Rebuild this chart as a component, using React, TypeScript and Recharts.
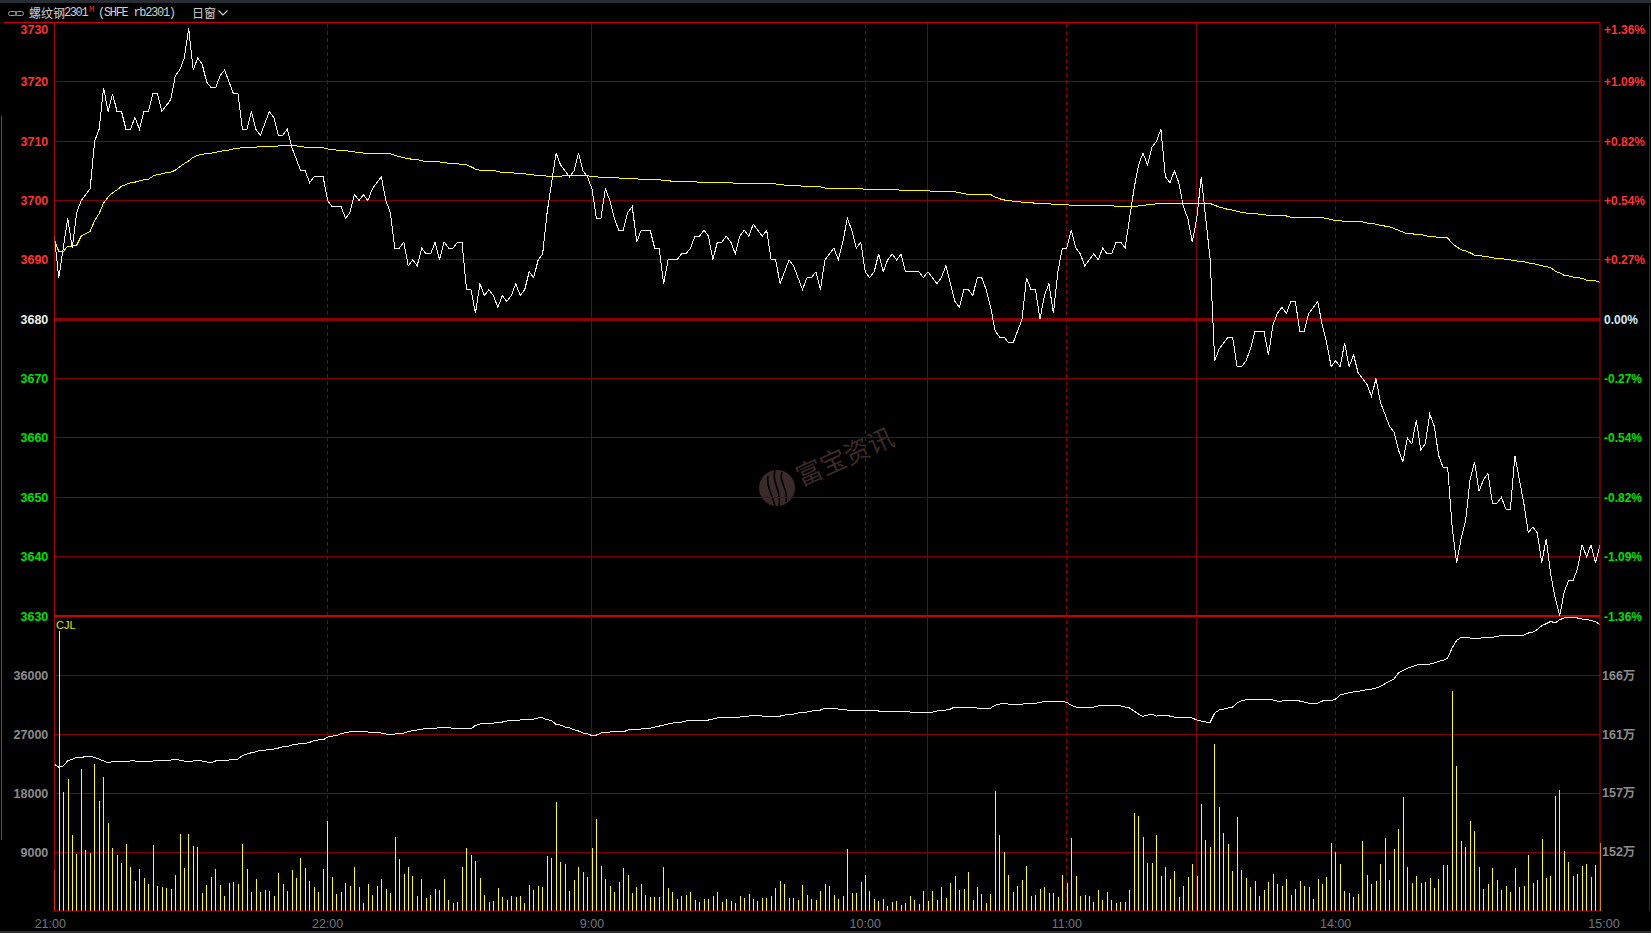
import React from "react";
import {
  ComposedChart,
  Line,
  Bar,
  XAxis,
  YAxis,
  ReferenceLine,
} from "recharts";

const priceValues = [
  3694, 3687, 3692, 3697, 3692, 3698, 3700, 3701, 3702, 3710,
  3712, 3719, 3715, 3718, 3715, 3715, 3712, 3712, 3714, 3712,
  3715, 3715, 3718, 3718, 3715, 3716, 3717, 3721, 3722, 3724,
  3729, 3722, 3724, 3723, 3720, 3719, 3719, 3721, 3722, 3720,
  3718, 3718, 3712, 3712, 3715, 3712, 3711, 3713, 3715, 3714,
  3711, 3711, 3712, 3709, 3707, 3705, 3705, 3703, 3704, 3704,
  3704, 3700, 3699, 3699, 3699, 3697, 3698, 3701, 3700, 3701,
  3700, 3702, 3703, 3704, 3700, 3698, 3692, 3692, 3693, 3689,
  3690, 3689, 3692, 3691, 3691, 3693, 3690, 3693, 3692, 3692,
  3693, 3693, 3685, 3685, 3681, 3686, 3684, 3685, 3684, 3682,
  3684, 3683, 3684, 3686, 3684, 3685, 3688, 3687, 3690, 3691,
  3698, 3703, 3708, 3706, 3705, 3704, 3705, 3708, 3705, 3704,
  3702, 3697, 3697, 3702, 3700, 3697, 3695, 3695, 3698, 3699,
  3693, 3695, 3695, 3695, 3692, 3692, 3686, 3690, 3690, 3690,
  3691, 3691, 3692, 3694, 3694, 3695, 3694, 3690, 3693, 3693,
  3694, 3693, 3691, 3694, 3695, 3694, 3696, 3695, 3694, 3695,
  3690, 3690, 3686, 3688, 3690, 3689, 3687, 3685, 3687, 3687,
  3688, 3685, 3690, 3691, 3692, 3690, 3693, 3697, 3695, 3692,
  3693, 3688, 3687, 3688, 3691, 3688, 3690, 3691, 3690, 3691,
  3688, 3688, 3688, 3688, 3687, 3688, 3687, 3686, 3687, 3689,
  3686, 3683, 3682, 3685, 3685, 3684, 3687, 3687, 3685, 3682,
  3678, 3677, 3677, 3676, 3676, 3678, 3680, 3687, 3685, 3685,
  3680, 3684, 3686, 3681, 3688, 3692, 3692, 3695, 3692, 3691,
  3689, 3690, 3691, 3690, 3692, 3691, 3691, 3693, 3693, 3692,
  3697, 3702, 3706, 3708, 3706, 3709, 3710, 3712, 3704, 3703,
  3705, 3703, 3699, 3697, 3693, 3697, 3704, 3697, 3690, 3673,
  3675, 3676, 3677, 3677, 3672, 3672, 3673, 3675, 3678, 3678,
  3678, 3674, 3679, 3681, 3682, 3681, 3683, 3683, 3678, 3678,
  3681, 3682, 3683, 3679, 3676, 3672, 3673, 3672, 3676, 3672,
  3674, 3671, 3670, 3669, 3667, 3670, 3666, 3664, 3662, 3661,
  3658, 3656, 3660, 3659, 3663, 3658, 3659, 3664, 3662, 3657,
  3655, 3655, 3645, 3639, 3643, 3646, 3653, 3656, 3651, 3653,
  3654, 3649, 3649, 3650, 3648, 3648, 3657, 3653, 3649, 3644,
  3645, 3644, 3639, 3643, 3637, 3633, 3630, 3634, 3636, 3636,
  3638, 3642, 3640, 3642, 3639, 3642,
];

const avgValues = [
  3693.5, 3691.4, 3691.4, 3692.3, 3692.3, 3692.5, 3694, 3694.4, 3694.8, 3696.6,
  3697.8, 3699.6, 3700.6, 3701.3, 3701.8, 3702.4, 3702.7, 3703, 3703.1, 3703.3,
  3703.5, 3703.6, 3704.1, 3704.4, 3704.5, 3704.7, 3704.8, 3705.1, 3705.7, 3706.2,
  3706.7, 3707.3, 3707.6, 3707.8, 3707.9, 3708, 3708.1, 3708.3, 3708.4, 3708.5,
  3708.7, 3708.8, 3708.9, 3708.9, 3708.9, 3709, 3709.1, 3709.1, 3709.1, 3709.1,
  3709.2, 3709.2, 3709.2, 3709.2, 3709.2, 3709.1, 3709, 3709, 3709, 3708.9,
  3708.9, 3708.7, 3708.6, 3708.5, 3708.4, 3708.4, 3708.3, 3708.2, 3708.1, 3708,
  3708, 3708, 3708, 3707.9, 3707.9, 3707.9, 3707.6, 3707.4, 3707.2, 3707.1,
  3706.9, 3706.9, 3706.7, 3706.6, 3706.6, 3706.5, 3706.5, 3706.4, 3706.3, 3706.2,
  3706.2, 3706.1, 3706, 3705.7, 3705.3, 3705.1, 3705.1, 3705.1, 3705.1, 3704.9,
  3704.7, 3704.7, 3704.7, 3704.6, 3704.6, 3704.5, 3704.4, 3704.3, 3704.2, 3704.2,
  3704.1, 3704, 3704, 3704.1, 3704.2, 3704.2, 3704.2, 3704.2, 3704.2, 3704.2,
  3704, 3704, 3703.9, 3703.9, 3703.9, 3703.9, 3703.8, 3703.7, 3703.7, 3703.7,
  3703.7, 3703.5, 3703.5, 3703.5, 3703.5, 3703.5, 3703.4, 3703.4, 3703.2, 3703.2,
  3703.2, 3703.2, 3703.2, 3703.2, 3703, 3703, 3703, 3703, 3703, 3703,
  3703, 3703, 3702.9, 3702.9, 3702.9, 3702.9, 3702.9, 3702.9, 3702.9, 3702.9,
  3702.9, 3702.8, 3702.7, 3702.6, 3702.6, 3702.6, 3702.6, 3702.4, 3702.3, 3702.3,
  3702.3, 3702.3, 3702.1, 3702.1, 3702.1, 3702.1, 3702, 3702, 3702, 3702,
  3702, 3701.9, 3701.9, 3701.9, 3701.9, 3701.9, 3701.9, 3701.9, 3701.9, 3701.7,
  3701.7, 3701.7, 3701.7, 3701.7, 3701.7, 3701.7, 3701.5, 3701.5, 3701.5, 3701.5,
  3701.5, 3701.5, 3701.3, 3701.2, 3701, 3701, 3701, 3701, 3701, 3701,
  3700.6, 3700.3, 3700.1, 3700, 3699.9, 3699.9, 3699.7, 3699.7, 3699.7, 3699.5,
  3699.5, 3699.5, 3699.5, 3699.3, 3699.3, 3699.3, 3699.3, 3699.2, 3699.2, 3699.2,
  3699.2, 3699.2, 3699.2, 3699.2, 3699.2, 3699.2, 3699.2, 3699, 3699, 3699,
  3699, 3699, 3699.1, 3699.1, 3699.3, 3699.3, 3699.5, 3699.5, 3699.5, 3699.5,
  3699.5, 3699.5, 3699.5, 3699.5, 3699.5, 3699.5, 3699.5, 3699.5, 3699.5, 3699.2,
  3698.9, 3698.7, 3698.5, 3698.4, 3698.2, 3698, 3697.9, 3697.8, 3697.8, 3697.7,
  3697.6, 3697.5, 3697.5, 3697.5, 3697.5, 3697.4, 3697.2, 3697.2, 3697.2, 3697.2,
  3697.1, 3697.1, 3697.1, 3697.1, 3697, 3696.8, 3696.6, 3696.6, 3696.5, 3696.5,
  3696.5, 3696.5, 3696.4, 3696.2, 3696.2, 3696, 3695.8, 3695.7, 3695.6, 3695.3,
  3695, 3694.7, 3694.4, 3694.4, 3694.3, 3694.3, 3694.1, 3693.9, 3693.9, 3693.8,
  3693.8, 3693.7, 3692.8, 3692.2, 3691.7, 3691.5, 3691.2, 3690.8, 3690.8, 3690.6,
  3690.5, 3690.4, 3690.2, 3690.2, 3690.1, 3690, 3689.9, 3689.7, 3689.7, 3689.5,
  3689.4, 3689.2, 3689, 3688.9, 3688.7, 3688.1, 3687.8, 3687.4, 3687.3, 3687.1,
  3687, 3686.9, 3686.6, 3686.5, 3686.5, 3686.2,
];

// open interest, in 万
const oiValues = [
  158.96, 158.7, 158.8, 159.22, 159.33, 159.48, 159.43, 159.59, 159.59, 159.48,
  159.35, 159.2, 159.04, 159.17, 159.2, 159.17, 159.12, 159.2, 159.2, 159.12,
  159.12, 159.12, 159.2, 159.2, 159.27, 159.27, 159.27, 159.35, 159.27, 159.2,
  159.12, 159.2, 159.2, 159.2, 159.12, 159.04, 159.2, 159.2, 159.2, 159.27,
  159.35, 159.35, 159.64, 159.75, 159.85, 159.93, 160.06, 160.06, 160.09, 160.14,
  160.22, 160.33, 160.35, 160.46, 160.51, 160.59, 160.59, 160.67, 160.83, 160.86,
  160.86, 161.09, 161.17, 161.2, 161.36, 161.44, 161.51, 161.57, 161.51, 161.57,
  161.49, 161.49, 161.49, 161.41, 161.33, 161.33, 161.33, 161.38, 161.41, 161.51,
  161.6, 161.65, 161.7, 161.78, 161.78, 161.78, 161.86, 161.86, 161.86, 161.78,
  161.78, 161.78, 161.78, 161.73, 162.02, 162.12, 162.2, 162.2, 162.2, 162.28,
  162.28, 162.36, 162.41, 162.41, 162.44, 162.49, 162.52, 162.52, 162.6, 162.6,
  162.46, 162.41, 162.07, 162.04, 161.88, 161.83, 161.67, 161.57, 161.41, 161.36,
  161.2, 161.25, 161.41, 161.49, 161.49, 161.51, 161.57, 161.49, 161.65, 161.73,
  161.65, 161.73, 161.8, 161.8, 161.88, 161.96, 162.04, 162.12, 162.2, 162.28,
  162.28, 162.36, 162.44, 162.44, 162.44, 162.44, 162.44, 162.52, 162.6, 162.67,
  162.67, 162.67, 162.67, 162.67, 162.75, 162.75, 162.83, 162.83, 162.75, 162.75,
  162.75, 162.75, 162.75, 162.83, 162.91, 162.91, 162.99, 163.07, 163.07, 163.15,
  163.23, 163.23, 163.39, 163.39, 163.39, 163.31, 163.31, 163.23, 163.23, 163.23,
  163.23, 163.15, 163.23, 163.23, 163.15, 163.15, 163.15, 163.15, 163.15, 163.15,
  163.15, 163.07, 163.07, 163.07, 163.07, 163.07, 163.07, 163.15, 163.23, 163.23,
  163.31, 163.47, 163.47, 163.47, 163.47, 163.47, 163.39, 163.39, 163.39, 163.39,
  163.62, 163.7, 163.78, 163.7, 163.7, 163.7, 163.7, 163.76, 163.76, 163.76,
  163.83, 163.91, 163.91, 163.91, 163.91, 163.91, 163.83, 163.6, 163.47, 163.47,
  163.47, 163.47, 163.47, 163.55, 163.55, 163.55, 163.55, 163.55, 163.55, 163.47,
  163.39, 163.15, 162.91, 162.73, 162.83, 162.91, 162.75, 162.83, 162.83, 162.75,
  162.67, 162.67, 162.6, 162.6, 162.6, 162.44, 162.36, 162.28, 162.28, 162.99,
  163.23, 163.31, 163.39, 163.47, 163.78, 163.97, 164.05, 164.1, 164.1, 164.1,
  164.1, 164.1, 164.02, 163.94, 163.94, 164.02, 163.94, 164.02, 163.94, 163.86,
  163.78, 163.78, 163.78, 163.94, 164.02, 163.97, 164.1, 164.42, 164.52, 164.6,
  164.66, 164.68, 164.79, 164.84, 164.89, 164.97, 165.1, 165.31, 165.5, 165.68,
  166.16, 166.34, 166.53, 166.66, 166.79, 166.84, 166.87, 166.87, 166.95, 167.08,
  167.16, 167.34, 168.14, 168.74, 168.98, 168.98, 168.93, 168.9, 168.9, 168.98,
  168.98, 168.98, 169.06, 169.11, 169.14, 169.14, 169.09, 169.09, 169.16, 169.32,
  169.4, 169.59, 169.9, 170.06, 170.25, 170.11, 170.38, 170.51, 170.54, 170.56,
  170.51, 170.43, 170.38, 170.33, 170.22, 169.98,
];

const volumeValues = [
  6300, 42760, 18100, 20190, 11640, 8750, 21710, 9360, 8850, 22480,
  16830, 20490, 13480, 9660, 8590, 7370, 10270, 6760, 4630, 6460,
  5090, 4170, 10120, 3860, 3710, 3560, 3410, 5540, 11800, 6610,
  11800, 9970, 9810, 2800, 4020, 5240, 6460, 4020, 2340, 4320,
  4470, 4170, 10270, 6460, 2950, 4930, 2950, 3250, 3100, 2340,
  5850, 4170, 3100, 6300, 5090, 8140, 6610, 4630, 3710, 2950,
  6460, 13780, 5240, 2640, 2950, 4320, 3860, 6760, 3710, 1270,
  4170, 2490, 3860, 4930, 3410, 2800, 11340, 7980, 5700, 6760,
  5390, 2340, 4930, 2030, 2490, 3410, 3250, 4930, 1730, 1270,
  1420, 6760, 9660, 8590, 7680, 5090, 2490, 1420, 1580, 3560,
  2190, 1730, 2340, 2190, 2340, 1270, 4020, 3250, 3860, 3710,
  8440, 8140, 16680, 7530, 7220, 3100, 4780, 6760, 6000, 5240,
  9660, 14090, 6920, 4930, 3860, 2950, 4470, 6610, 5540, 2800,
  3710, 4170, 2490, 2190, 2190, 2190, 6760, 3560, 2950, 1880,
  2340, 2490, 2950, 1730, 1420, 1880, 1880, 2340, 2950, 1420,
  1880, 1580, 1270, 2340, 2030, 2640, 1880, 1580, 2030, 2030,
  2340, 3560, 4630, 4170, 2030, 2030, 1730, 4020, 2490, 1880,
  1730, 3100, 4170, 3860, 2490, 1880, 2340, 9510, 2800, 2800,
  4470, 5540, 3100, 1880, 1580, 1880, 810, 1420, 1580, 970,
  1270, 2340, 1730, 1120, 3100, 1580, 3100, 1730, 3710, 2030,
  4320, 5390, 3250, 3410, 6000, 1730, 3710, 2640, 1270, 2640,
  18360, 11640, 9050, 5540, 2950, 3860, 4780, 6920, 2340, 2490,
  3410, 3710, 2800, 2800, 2190, 5540, 4320, 11190, 5390, 2340,
  2490, 2340, 1420, 3250, 1730, 2950, 1730, 1270, 1420, 1420,
  3250, 15000, 14540, 11340, 7370, 7370, 11640, 5390, 6760, 4930,
  6150, 2190, 3860, 5240, 7220, 5390, 16370, 10880, 9810, 25530,
  15920, 11950, 10270, 6150, 14390, 6310, 5090, 3710, 4630, 2340,
  3250, 4470, 5700, 4170, 3860, 4930, 2490, 3410, 4630, 3860,
  3710, 1880, 4930, 4170, 5240, 10420, 9050, 7220, 3100, 2800,
  2190, 2640, 10730, 5540, 4170, 4630, 7220, 11190, 4780, 9510,
  12560, 17440, 6760, 4320, 5390, 4320, 4470, 5090, 3560, 4930,
  7070, 7070, 33610, 22170, 10730, 9810, 13780, 12250, 6760, 3410,
  4170, 6610, 4780, 3250, 3860, 2950, 6610, 3710, 3860, 8590,
  4320, 4780, 11030, 5090, 5390, 17590, 18510, 9200, 7530, 5390,
  5700, 6920, 7220, 5240, 7070, 10420,
];

const priceTicks = [3730, 3720, 3710, 3700, 3690, 3680, 3670, 3660, 3650, 3640, 3630];
const prevClose = 3680;
const volumeTicks = [36000, 27000, 18000, 9000];
const oiTicks = [166, 161.33, 156.67, 152];
const timeTicks = [0, 61, 120, 181, 226, 286, 345];
const timeLabels = ["21:00", "22:00", "9:00", "10:00", "11:00", "14:00", "15:00"];
const dashedTimes = [61, 181, 226, 286];
const solidTimes = [120, 195, 255];

const tableData = priceValues.map((price, i) => ({
  i,
  price,
  avg: avgValues[i],
  oi: oiValues[i],
  volume: volumeValues[i],
}));

const GRID = "#800000";
const RED = "#cc0000";
const LABEL_FONT = "'Liberation Sans', Arial, sans-serif";

function priceColor(v: number) {
  if (v > prevClose) return "#ff3333";
  if (v < prevClose) return "#00e000";
  return "#f0f0f0";
}

function nudgeTop(v: number, y: number) {
  return v === 3730 ? y + 7 : y;
}

function PriceTick({ x, y, payload }: any) {
  return (
    <text x={x - 4} y={nudgeTop(payload.value, y) + 4.5} textAnchor="end" fill={priceColor(payload.value)}
      fontFamily={LABEL_FONT} fontWeight="bold" fontSize={12.5}>
      {payload.value}
    </text>
  );
}

function PercentTick({ x, y, payload }: any) {
  const v = payload.value;
  const pct = ((v - prevClose) / prevClose) * 100;
  const sign = pct > 0 ? "+" : "";
  return (
    <text x={x + 2} y={nudgeTop(v, y) + 4.5} fill={v === prevClose ? "#d8e8f8" : priceColor(v)}
      fontFamily={LABEL_FONT} fontWeight="bold" fontSize={12}>
      {sign + pct.toFixed(2) + "%"}
    </text>
  );
}

function VolumeTick({ x, y, payload }: any) {
  return (
    <text x={x - 4} y={y + 4.5} textAnchor="end" fill="#8c8c8c"
      fontFamily={LABEL_FONT} fontWeight="bold" fontSize={12.5}>
      {payload.value}
    </text>
  );
}

function OiTick({ x, y, payload }: any) {
  return (
    <text x={x} y={y + 4.5} fill="#8c8c8c"
      fontFamily={"'Liberation Sans', 'Noto Sans CJK SC', sans-serif"} fontWeight="bold" fontSize={12.5}>
      {Math.round(payload.value) + "万"}
    </text>
  );
}

function TimeTick({ x, y, payload }: any) {
  const idx = timeTicks.indexOf(payload.value);
  let shift = 0;
  if (idx === 0) shift = -4;
  if (idx === timeTicks.length - 1) shift = 4;
  return (
    <text x={x + shift} y={y + 9} textAnchor="middle" fill="#6f7680"
      fontFamily={LABEL_FONT} fontSize={12.5}>
      {timeLabels[idx]}
    </text>
  );
}

function Watermark() {
  return (
    <svg width={1651} height={933} style={{ position: "absolute", left: 0, top: 0 }}>
      <circle cx={777} cy={488} r={18} fill="#3b2a2a" />
      <path d="M768 476 C766 486 772 494 775 506 M775 470 C771 482 782 490 779 506 M782 472 C778 482 789 488 786 502"
        stroke="#000" strokeWidth={1.5} fill="none" />
      <text x={845} y={466} textAnchor="middle" fontFamily="'Noto Sans CJK SC'" fontSize={26} fill="#3b2a2a"
        transform="rotate(-24 845 457)">
        富宝资讯
      </text>
    </svg>
  );
}

function Header() {
  const base: React.CSSProperties = { position: "absolute", color: "#d0d0d0", whiteSpace: "pre", lineHeight: "14px" };
  const cjk = "'Noto Sans CJK SC', sans-serif";
  const mono = "'Liberation Mono', monospace";
  return (
    <>
      <svg width={30} height={24} style={{ position: "absolute", left: 0, top: 0 }}>
        <rect x={8.5} y={11.5} width={8} height={4} rx={2} stroke="#a0a0a0" fill="none" />
        <rect x={15.5} y={11.5} width={8} height={4} rx={2} stroke="#a0a0a0" fill="none" />
      </svg>
      <span style={{ ...base, left: 29, top: 6, fontFamily: cjk, fontSize: 12 }}>螺纹钢</span>
      <span style={{ ...base, left: 64, top: 6, fontFamily: mono, fontSize: 12, letterSpacing: -1.4 }}>2301</span>
      <span style={{ ...base, left: 89, top: 3, color: "#e03030", fontFamily: mono, fontSize: 9 }}>M</span>
      <span style={{ ...base, left: 98, top: 6, fontFamily: mono, fontSize: 12, letterSpacing: -1.3 }}>(SHFE rb2301)</span>
      <span style={{ ...base, left: 192, top: 6, fontFamily: cjk, fontSize: 12 }}>日窗</span>
      <svg width={14} height={10} style={{ position: "absolute", left: 217, top: 9 }}>
        <path d="M1.5 1.5 L6 6 L10.5 1.5" stroke="#d0d0d0" strokeWidth={1.2} fill="none" />
      </svg>
      <span style={{ position: "absolute", left: 56, top: 618, color: "#e6e600", fontFamily: LABEL_FONT, fontSize: 11, lineHeight: "14px" }}>CJL</span>
    </>
  );
}

export default function App() {
  return (
    <div style={{ position: "fixed", left: 0, top: 0, width: 1651, height: 933, background: "#000", overflow: "hidden" }}>
      <div style={{ position: "absolute", left: 0, top: 0, width: 1651, height: 3, background: "#2a2d33" }} />
      <div style={{ position: "absolute", left: 0, top: 931, width: 1651, height: 2, background: "#2a2d33" }} />
      <div style={{ position: "absolute", left: 1, top: 116, width: 1, height: 724, background: "#555" }} />
      <div style={{ position: "absolute", left: 1649, top: 5, width: 1, height: 906, background: "#a00000" }} />
      <div style={{ position: "absolute", left: 4, top: 22, width: 50, height: 1, background: RED }} />
      <Watermark />
      <Header />

      {/* grid layers sit under the series so bars and lines stay solid */}
      <div style={{ position: "absolute", left: 0, top: 0 }}>
        <ComposedChart width={1651} height={640} data={tableData}
          margin={{ top: 22.5, right: 0, bottom: 24, left: 0 }}>
          <XAxis dataKey="i" type="number" domain={[0, 345]} hide />
          <YAxis yAxisId="price" width={54.3} domain={[3630, 3730]} tick={false} tickLine={false} axisLine={false} />
          <YAxis yAxisId="spare" orientation="right" width={51} domain={[3630, 3730]} tick={false} tickLine={false} axisLine={false} />
          <Line yAxisId="spare" dataKey="price" stroke="none" dot={false} isAnimationActive={false} />
          <Line yAxisId="price" dataKey="price" stroke="none" dot={false} isAnimationActive={false} />
          {priceTicks.filter((v) => v !== 3680 && v !== 3630 && v !== 3730).map((v) => (
            <ReferenceLine key={v} yAxisId="price" y={v} stroke={GRID} shapeRendering="crispEdges" />
          ))}
          {dashedTimes.map((t) => (
            <ReferenceLine key={t} yAxisId="price" x={t} stroke="#8c0000" strokeDasharray="4 3" shapeRendering="crispEdges" />
          ))}
          {solidTimes.map((t) => (
            <ReferenceLine key={t} yAxisId="price" x={t} stroke={GRID} shapeRendering="crispEdges" />
          ))}
          <ReferenceLine yAxisId="price" y={3730} stroke={RED} shapeRendering="crispEdges" />
          <ReferenceLine yAxisId="price" y={3680} stroke="#8c0000" strokeWidth={3} shapeRendering="crispEdges" />
          <ReferenceLine yAxisId="price" y={3630} stroke={RED} strokeWidth={2} shapeRendering="crispEdges" />
        </ComposedChart>
      </div>
      <div style={{ position: "absolute", left: 0, top: 616 }}>
        <ComposedChart width={1651} height={317} data={tableData}
          margin={{ top: 0, right: 0, bottom: 0, left: 0 }}>
          <XAxis dataKey="i" type="number" domain={[0, 345]} height={22} tick={false} tickLine={false} axisLine={false} />
          <YAxis yAxisId="vol" width={54.3} domain={[0, 45000]} tick={false} tickLine={false} axisLine={false} />
          <YAxis yAxisId="spare" orientation="right" width={51} domain={[0, 45000]} tick={false} tickLine={false} axisLine={false} />
          <Line yAxisId="spare" dataKey="volume" stroke="none" dot={false} isAnimationActive={false} />
          <Line yAxisId="vol" dataKey="volume" stroke="none" dot={false} isAnimationActive={false} />
          {volumeTicks.map((v) => (
            <ReferenceLine key={v} yAxisId="vol" y={v} stroke={GRID} shapeRendering="crispEdges" />
          ))}
          {dashedTimes.map((t) => (
            <ReferenceLine key={t} yAxisId="vol" x={t} stroke="#8c0000" strokeDasharray="4 3" shapeRendering="crispEdges" />
          ))}
          {solidTimes.map((t) => (
            <ReferenceLine key={t} yAxisId="vol" x={t} stroke={GRID} shapeRendering="crispEdges" />
          ))}
        </ComposedChart>
      </div>

      <div style={{ position: "absolute", left: 0, top: 0 }}>
        <ComposedChart width={1651} height={640} data={tableData}
          margin={{ top: 22.5, right: 0, bottom: 24, left: 0 }}>
          <XAxis dataKey="i" type="number" domain={[0, 345]} hide />
          <YAxis yAxisId="price" width={54.3} domain={[3630, 3730]} ticks={priceTicks} interval={0} tickSize={0}
            tick={PriceTick} tickLine={false} axisLine={{ stroke: RED }} />
          <YAxis yAxisId="pct" orientation="right" width={51} domain={[3630, 3730]} ticks={priceTicks} interval={0} tickSize={0}
            tick={PercentTick} tickLine={false} axisLine={{ stroke: RED }} />
          <Line yAxisId="pct" dataKey="avg" type="linear" stroke="#ffff00" strokeWidth={1} dot={false}
            isAnimationActive={false} shapeRendering="crispEdges" />
          <Line yAxisId="price" dataKey="price" type="linear" stroke="#f0f0f0" strokeWidth={1} dot={false}
            isAnimationActive={false} shapeRendering="crispEdges" />
        </ComposedChart>
      </div>
      <div style={{ position: "absolute", left: 0, top: 616 }}>
        <ComposedChart width={1651} height={317} data={tableData}
          margin={{ top: 0, right: 0, bottom: 0, left: 0 }}>
          <XAxis dataKey="i" type="number" domain={[0, 345]} ticks={timeTicks} interval={0} height={22}
            tick={TimeTick} tickLine={false} axisLine={{ stroke: RED }} />
          <YAxis yAxisId="vol" width={54.3} domain={[0, 45000]} ticks={volumeTicks} interval={0} tickSize={0}
            tick={VolumeTick} tickLine={false} axisLine={{ stroke: RED }} />
          <YAxis yAxisId="oi" orientation="right" width={51} domain={[147.33, 170.67]} ticks={oiTicks} interval={0} tickSize={0}
            tick={OiTick} tickLine={false} axisLine={{ stroke: RED }} />
          <Bar yAxisId="vol" dataKey="volume" fill="#ffff00" barSize={1} isAnimationActive={false} shapeRendering="crispEdges" />
          <Line yAxisId="oi" dataKey="oi" type="linear" stroke="#f0f0f0" strokeWidth={1} dot={false}
            isAnimationActive={false} shapeRendering="crispEdges" />
        </ComposedChart>
      </div>
    </div>
  );
}
